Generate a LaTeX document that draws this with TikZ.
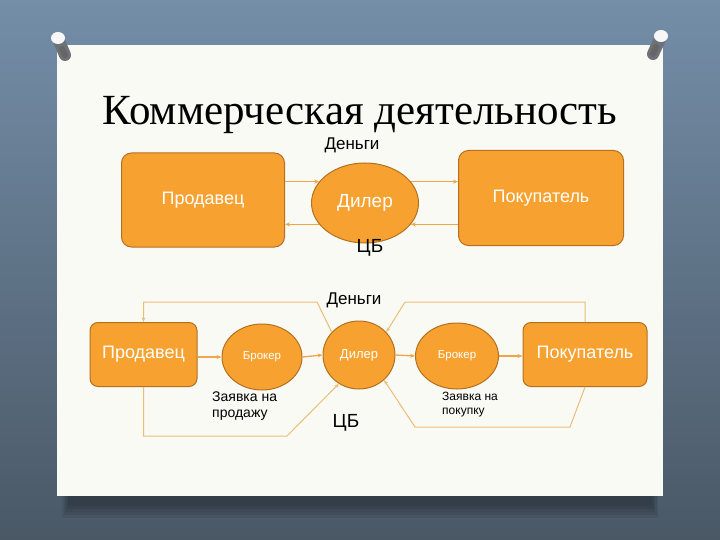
\documentclass[tikz,border=0pt]{standalone}
\usepackage{fontspec}
\setmainfont{Liberation Serif}
\newfontfamily\arialfont{Liberation Sans}
\usetikzlibrary{shapes.geometric,arrows.meta}
\definecolor{slidebg}{RGB}{116,142,168}
\definecolor{slidebgdark}{RGB}{74,88,102}
\definecolor{paper}{RGB}{250,250,245}
\definecolor{boxfill}{RGB}{247,162,48}
\definecolor{boxline}{RGB}{180,112,32}
\definecolor{arrline}{RGB}{238,166,72}
\definecolor{loopline}{RGB}{236,188,118}
\definecolor{pinbody}{RGB}{110,114,120}
\newcommand{\fsz}[1]{\fontsize{#1}{#1}\selectfont}

\begin{document}
\begin{tikzpicture}[x=1pt,y=-1pt,
  box/.style={draw=boxline, fill=boxfill, rounded corners=10pt, line width=1pt, text=white, font=\arialfont\fsz{18}},
  oval/.style={draw=boxline, fill=boxfill, ellipse, inner sep=0pt, line width=1pt, text=white},
  arr/.style={draw=arrline, line width=1.3pt, -{Stealth[length=5pt,width=4pt]}},
  loopline/.style={draw=loopline, line width=1pt, -{Stealth[length=4.5pt,width=3.5pt]}},
  lbl/.style={font=\arialfont\fsz{17}}]
  \shade[top color=slidebg, bottom color=slidebgdark] (0,0) rectangle (720,540);
  \useasboundingbox (0,0) rectangle (720,540);
  \foreach \d in {0,3,6,9,12} {
    \fill[black, opacity=.07] (62+\d/2,494) rectangle (658-\d/2,518-\d);
  }
  \fill[paper] (57,45) rectangle (663,496);
  % pins
  \draw[line width=12pt, line cap=round, draw=pinbody] (59,41) -- (65,55);
  \draw[line width=6pt, line cap=round, draw=black!60] (62,49) -- (65,55);
  \fill[white!94!gray] (58,38) ellipse (7 and 6);
  \draw[line width=12pt, line cap=round, draw=pinbody] (660,39) -- (653,54);
  \draw[line width=6pt, line cap=round, draw=black!60] (656,47) -- (653,54);
  \fill[white!94!gray] (661,36) ellipse (7 and 6);

  \node (title) at (360,125) [anchor=base, font=\fsz{43}] {Коммерческая деятельность};

  \node (prod1) at (203,200) [box, minimum width=163pt, minimum height=94pt] {Продавец};
  \node (dil1) at (365,203) [oval, minimum width=107pt, minimum height=80pt, font=\arialfont\fsz{19}] {Дилер};
  \node (pok1) at (541,198) [box, minimum width=165pt, minimum height=95pt] {Покупатель};
  \node (money1) at (352,145) [lbl] {Деньги};
  \node (cb1) at (370,248) [lbl, font=\arialfont\fsz{19}] {ЦБ};
  \draw[arr] (prod1.east |- dil1.155) -- (dil1.155);
  \draw[arr] (dil1.205) -- (prod1.east |- dil1.205);
  \draw[arr] (dil1.25) -- (pok1.west |- dil1.25);
  \draw[arr] (pok1.west |- dil1.335) -- (dil1.335);

  \node (prod2) at (143.5,354.5) [box, minimum width=107pt, minimum height=64pt, rounded corners=8pt] {Продавец};
  \node (brok1) at (262,357) [oval, minimum width=80pt, minimum height=66pt, font=\arialfont\fsz{11.5}] {Брокер};
  \node (dil2) at (359,355) [oval, minimum width=72pt, minimum height=68pt, font=\arialfont\fsz{13}] {Дилер};
  \node (brok2) at (457,356) [oval, minimum width=83pt, minimum height=66pt, font=\arialfont\fsz{11.5}] {Брокер};
  \node (pok2) at (585,354.5) [box, minimum width=124pt, minimum height=64pt, rounded corners=8pt] {Покупатель};
  \node (money2) at (354,300) [lbl] {Деньги};
  \node (cb2) at (346,423) [lbl, font=\arialfont\fsz{19}] {ЦБ};
  \node (sell) at (212,406) [anchor=west, inner sep=0pt, align=left, font=\arialfont\fontsize{14}{16}\selectfont] {Заявка на\\продажу};
  \node (buy) at (442,405) [anchor=west, inner sep=0pt, align=left, font=\arialfont\fontsize{12}{14}\selectfont] {Заявка на\\покупку};

  \draw[arr] (prod2.east |- brok1.west) -- (brok1.west);
  \draw[arr] (brok1.east) -- (dil2.west);
  \draw[arr] (dil2.east) -- (brok2.west);
  \draw[arr] (brok2.east) -- (pok2.west |- brok2.east);
  \draw[loopline] (dil2.140) -- (317,302) -| (prod2.north);
  \draw[loopline] (pok2.north) |- (405,302) -- (dil2.40);
  \draw[loopline] (prod2.south) |- (287,436) -- (dil2.235);
  \draw[loopline] (pok2.south) -- (570,427) -- (415,427) -- (dil2.315);
\end{tikzpicture}
\end{document}
